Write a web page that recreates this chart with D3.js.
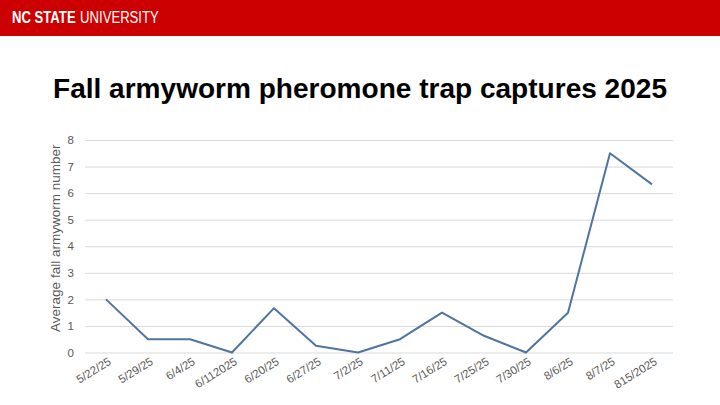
<!DOCTYPE html>
<html>
<head>
<meta charset="utf-8">
<script src="https://cdn.jsdelivr.net/npm/d3@7"></script>
<style>
  body { margin: 0; background: #fff; }
  svg { display: block; font-family: "Liberation Sans", Arial, sans-serif; }
</style>
</head>
<body>
<div id="chart"></div>
<script>
// trap dates as written on the slide
const dates = ["5/22/25", "5/29/25", "6/4/25", "6/112025", "6/20/25", "6/27/25", "7/2/25",
               "7/11/25", "7/16/25", "7/25/25", "7/30/25", "8/6/25", "8/7/25", "815/2025"];
const captures = [2, 0.5, 0.5, 0, 1.67, 0.25, 0, 0.5, 1.5, 0.63, 0, 1.5, 7.5, 6.33];
const yTicks = [0, 1, 2, 3, 4, 5, 6, 7, 8];

const width = 720, height = 405;
const margin = { left: 85, right: 47, top: 140, bottom: 52 };

const svg = d3.select("#chart").append("svg")
    .attr("width", width)
    .attr("height", height);

// header banner
svg.append("rect")
    .attr("width", width)
    .attr("height", 36)
    .attr("fill", "#cc0000");

// condensed wordmark: squeeze horizontally
const brand = svg.append("g")
    .attr("transform", "translate(12,23) scale(0.82,1)")
    .attr("fill", "#fff")
    .style("font-size", "16px");
brand.append("text")
    .attr("font-weight", "bold")
    .text("NC STATE");
brand.append("text")
    .attr("x", 83)
    .text("UNIVERSITY");

svg.append("text")
    .attr("x", 360)
    .attr("y", 98)
    .attr("text-anchor", "middle")
    .attr("font-weight", "bold")
    .attr("textLength", 614)
    .attr("lengthAdjust", "spacingAndGlyphs")
    .style("font-size", "28.5px")
    .text("Fall armyworm pheromone trap captures 2025");

const x = d3.scaleBand()
    .domain(dates)
    .range([margin.left, width - margin.right]);

const y = d3.scaleLinear()
    .domain([0, 8])
    .range([height - margin.bottom - 0.5, margin.top]);

// gridlines + y labels
const yAxis = svg.append("g")
    .attr("transform", `translate(${margin.left},0)`)
    .call(d3.axisLeft(y).tickValues(yTicks)
        .tickSize(-(width - margin.left - margin.right))
        .tickPadding(11));
yAxis.select(".domain").remove();
yAxis.selectAll("line").attr("stroke", "#d9d9d9");
yAxis.selectAll("text").attr("fill", "#595959").style("font-size", "11.5px");

// x labels, slanted
const xAxis = svg.append("g")
    .attr("transform", `translate(0,${y(0)})`)
    .call(d3.axisBottom(x).tickSize(0).tickPadding(0));
xAxis.select(".domain").remove();
xAxis.selectAll("text")
    .attr("fill", "#595959")
    .style("font-size", "11.5px")
    .attr("text-anchor", "end")
    .attr("dy", 0)
    .attr("transform", "translate(6,11) rotate(-32)");

svg.append("text")
    .attr("transform", `translate(60,${y(4) - 8}) rotate(-90)`)
    .attr("text-anchor", "middle")
    .attr("fill", "#595959")
    .style("font-size", "13.5px")
    .text("Average fall armyworm number");

const line = d3.line()
    .x((d, i) => x(dates[i]) + x.bandwidth() / 2)
    .y(d => y(d));

svg.append("path")
    .datum(captures)
    .attr("fill", "none")
    .attr("stroke", "#4f74a0")
    .attr("stroke-width", 2)
    .attr("stroke-linejoin", "round")
    .attr("d", line);
</script>
</body>
</html>
